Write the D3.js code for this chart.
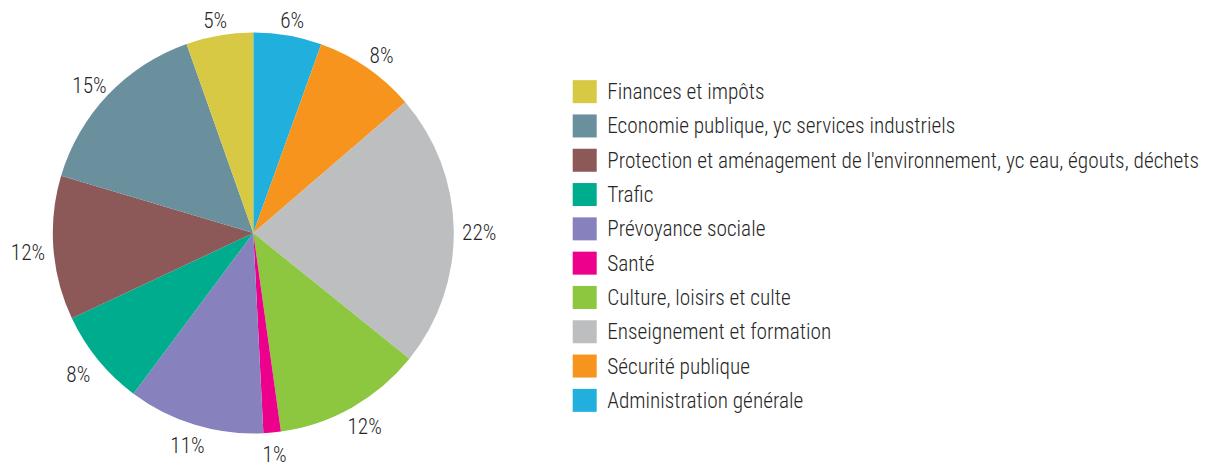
<!DOCTYPE html>
<html>
<head>
<meta charset="utf-8">
<script src="https://cdn.jsdelivr.net/npm/d3@7"></script>
<style>
  body { margin: 0; background: #fff; }
  text { font-family: Roboto, "Noto Sans", sans-serif; font-weight: 300; font-stretch: condensed; fill: #262626; }
</style>
</head>
<body>
<div id="chart"></div>
<script>
// categories, in the order of the pie (clockwise from 12 o'clock)
var categories = [
  "Administration générale",
  "Sécurité publique",
  "Enseignement et formation",
  "Culture, loisirs et culte",
  "Santé",
  "Prévoyance sociale",
  "Trafic",
  "Protection et aménagement de l'environnement, yc eau, égouts, déchets",
  "Economie publique, yc services industriels",
  "Finances et impôts"
];

// shares in percent
var values = [5.5, 8.2, 22.1, 12.0, 1.4, 11.0, 7.8, 11.6, 15.0, 5.4];

var colors = ["#21b0dd", "#f7941d", "#bcbec0", "#8dc63f", "#ec008c",
              "#8781bd", "#00ac8e", "#8c5858", "#6a909e", "#d7c944"];

var width = 1210, height = 464;
var cx = 253.3, cy = 233, radius = 200.5;

var svg = d3.select("#chart").append("svg")
    .attr("width", width)
    .attr("height", height);

var data = categories.map(function(c, i) {
  return {name: c, value: values[i], color: colors[i]};
});

// pie, no sorting so the slice order follows the arrays
var pie = d3.pie()
    .sort(null)
    .value(function(d) { return d.value; });

var arc = d3.arc()
    .innerRadius(0)
    .outerRadius(radius);

// unit arc, stretched a bit wider than tall for the labels
var unitArc = d3.arc()
    .innerRadius(1)
    .outerRadius(1);

var g = svg.append("g")
    .attr("transform", "translate(" + cx + "," + cy + ")");

var arcs = pie(data);

g.selectAll("path")
    .data(arcs)
  .enter().append("path")
    .attr("d", arc)
    .attr("fill", function(d) { return d.data.color; });

// percent labels outside the pie
g.selectAll("text.pct")
    .data(arcs)
  .enter().append("text")
    .attr("class", "pct")
    .attr("transform", function(d) {
      var p = unitArc.centroid(d);
      return "translate(" + (p[0] * 226) + "," + (p[1] * 219 + 3) + ")";
    })
    .attr("text-anchor", "middle")
    .attr("dominant-baseline", "central")
    .style("font-size", "21.3px")
    .text(function(d) { return Math.round(d.data.value) + "%"; });

// legend, listed from the last slice to the first
var legendData = data.slice().reverse();
var legendY = d3.scaleBand()
    .domain(legendData.map(function(d) { return d.name; }))
    .range([74.5, 74.5 + 34.3 * legendData.length]);

var legend = svg.append("g")
    .attr("transform", "translate(572.7,0)");

var rows = legend.selectAll("g.row")
    .data(legendData)
  .enter().append("g")
    .attr("class", "row")
    .attr("transform", function(d) {
      return "translate(0," + (legendY(d.name) + legendY.bandwidth() / 2) + ")";
    });

rows.append("rect")
    .attr("x", 0)
    .attr("y", -11.5)
    .attr("width", 24)
    .attr("height", 23)
    .attr("fill", function(d) { return d.color; });

rows.append("text")
    .attr("x", 34.5)
    .attr("y", 0)
    .attr("dominant-baseline", "central")
    .style("font-size", "21.3px")
    .text(function(d) { return d.name; });
</script>
</body>
</html>
